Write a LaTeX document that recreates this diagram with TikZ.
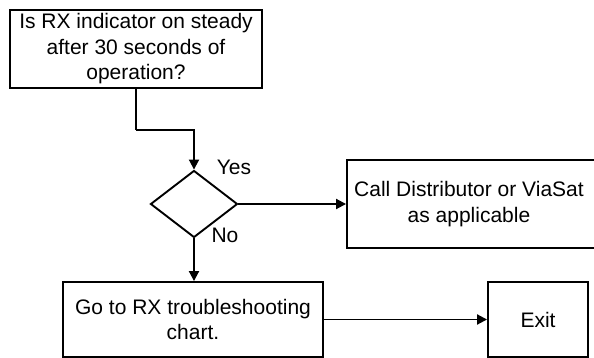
\documentclass[tikz,border=0pt]{standalone}
\usepackage{fontspec}
\setmainfont{Liberation Sans}
\usetikzlibrary{shapes.geometric,arrows.meta}
\begin{document}
\begin{tikzpicture}[x=1pt,y=-1pt,
  box/.style={draw=black,line width=1.9pt,rectangle,inner sep=0pt,align=center,
    font=\fontsize{21pt}{25.5pt}\selectfont},
  lbl/.style={inner sep=0pt,align=center,font=\fontsize{21pt}{25.5pt}\selectfont},
  arr/.style={line width=1.9pt,-{Triangle[length=10pt,width=10pt]}},
  ln/.style={line width=1.9pt}]
\useasboundingbox (0,0) rectangle (594,358);
\clip (0,0) rectangle (594,358);
\fill[white] (0,0) rectangle (594,358);
\node[box,minimum width=252pt,minimum height=78pt] (top) at (136,49)
  {Is RX indicator on steady\\after 30 seconds of\\operation?};
\node[draw=black,line width=1.9pt,diamond,inner sep=0pt,minimum width=87pt,minimum height=67pt] (dia) at (194,204) {};
\node[box,minimum width=263pt,minimum height=88pt] (call) at (478.5,204) {};
\node[lbl] (calltxt) at (469,204) {Call Distributor or ViaSat\\as applicable};
\node[box,minimum width=260pt,minimum height=75pt] (go) at (193,319.5)
  {Go to RX troubleshooting\\chart.};
\node[box,minimum width=100pt,minimum height=75pt] (exit) at (538,319.5) {Exit};
\node[lbl] (yes) at (234,167) {Yes};
\node[lbl] (no) at (225,235) {No};
\coordinate (k1) at (136,130);
\draw[ln] (top.south) -- (k1);
\draw[arr] (k1) -| (dia.north);
\draw[arr] (dia.east) -- (call.west);
\draw[arr] (dia.south) -- (dia.south |- go.north);
\draw[arr] (go.east) -- (exit.west);
\end{tikzpicture}
\end{document}
